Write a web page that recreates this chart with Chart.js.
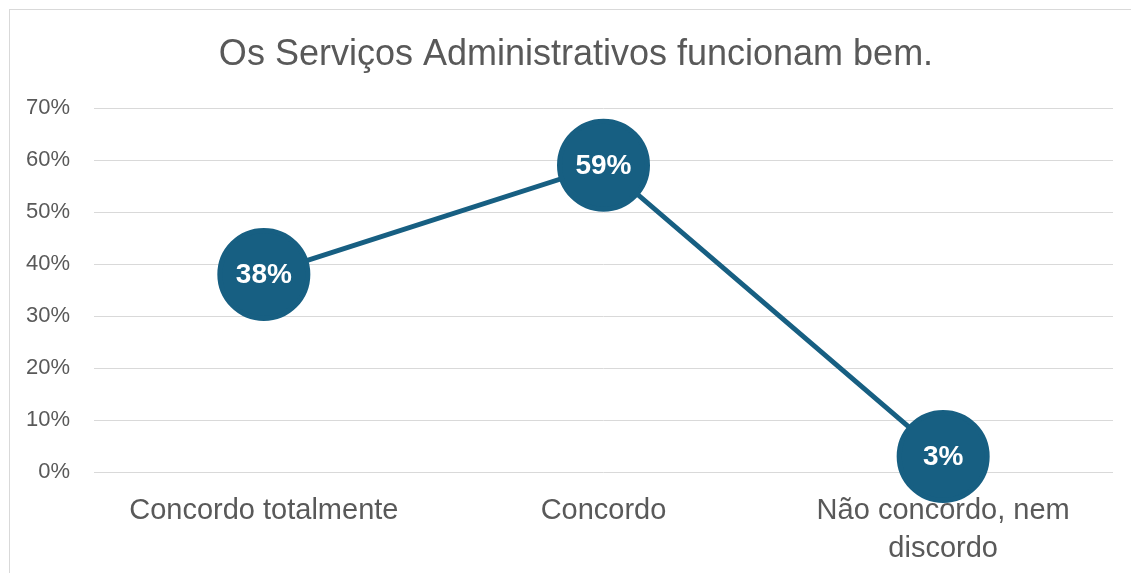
<!DOCTYPE html>
<html>
<head>
<meta charset="utf-8">
<script src="https://cdn.jsdelivr.net/npm/chart.js@4.4.1/dist/chart.umd.min.js"></script>
<style>
  html, body { margin: 0; padding: 0; background: #ffffff; overflow: hidden; }
  #frame { position: absolute; left: 9px; top: 9px; width: 1130px; height: 570px; border: 1px solid #d9d9d9; background: #fff; }
  #wrap { position: absolute; left: 0; top: 0; width: 1121px; height: 563px; }
</style>
</head>
<body>
<div id="frame"><div id="wrap"><canvas id="c"></canvas></div></div>
<script>
const categories = [["Concordo totalmente"], ["Concordo"], ["Não concordo, nem", "discordo"]];
const values = [38, 59, 3];
const yTicks = [0, 10, 20, 30, 40, 50, 60, 70];
const titleText = "Os Serviços Administrativos funcionam bem.";

const pointLabels = {
  id: 'pointLabels',
  afterDatasetsDraw(chart) {
    const ctx = chart.ctx;
    const meta = chart.getDatasetMeta(0);
    ctx.save();
    ctx.fillStyle = '#ffffff';
    ctx.font = 'bold 28px "Liberation Sans", Arial, sans-serif';
    ctx.textAlign = 'center';
    ctx.textBaseline = 'middle';
    meta.data.forEach((pt, i) => {
      ctx.fillText(values[i] + '%', pt.x, pt.y + 1);
    });
    ctx.restore();
  }
};

const chartTitle = {
  id: 'chartTitle',
  afterDraw(chart) {
    const ctx = chart.ctx;
    ctx.save();
    ctx.fillStyle = '#595959';
    ctx.font = '36px "Liberation Sans", Arial, sans-serif';
    ctx.textAlign = 'center';
    ctx.textBaseline = 'middle';
    ctx.fillText(titleText, 566, 45.5);
    ctx.restore();
  }
};

new Chart(document.getElementById('c'), {
  type: 'line',
  data: {
    labels: categories,
    datasets: [{
      data: values,
      borderColor: '#175f82',
      borderWidth: 5,
      backgroundColor: '#175f82',
      pointBackgroundColor: '#175f82',
      pointBorderColor: '#175f82',
      pointRadius: 44,
      pointHoverRadius: 44,
      tension: 0,
      clip: false
    }]
  },
  options: {
    responsive: true,
    maintainAspectRatio: false,
    animation: false,
    events: [],
    layout: { autoPadding: false, padding: { left: 0, right: 18, top: 98, bottom: 0 } },
    plugins: {
      legend: { display: false },
      tooltip: { enabled: false },
      title: { display: false }
    },
    scales: {
      x: {
        offset: true,
        grid: { display: false, drawTicks: false },
        border: { display: false },
        ticks: {
          color: '#595959',
          font: { family: '"Liberation Sans", Arial, sans-serif', size: 29, lineHeight: 1.3 },
          padding: 20,
          maxRotation: 0,
          autoSkip: false
        },
        afterFit(scale) { scale.height = 101; scale.paddingLeft = 0; scale.paddingRight = 0; }
      },
      y: {
        min: 0,
        max: 70,
        afterBuildTicks(scale) { scale.ticks = yTicks.map(v => ({ value: v })); },
        grid: { color: '#d9d9d9', lineWidth: 1, drawTicks: false },
        border: { display: false },
        ticks: {
          color: '#595959',
          font: { family: '"Liberation Sans", Arial, sans-serif', size: 22 },
          padding: 24,
          callback: (v) => v + '%'
        },
        afterFit(scale) { scale.width = 84; scale.paddingTop = 0; scale.paddingBottom = 0; }
      }
    }
  },
  plugins: [pointLabels, chartTitle]
});
</script>
</body>
</html>
